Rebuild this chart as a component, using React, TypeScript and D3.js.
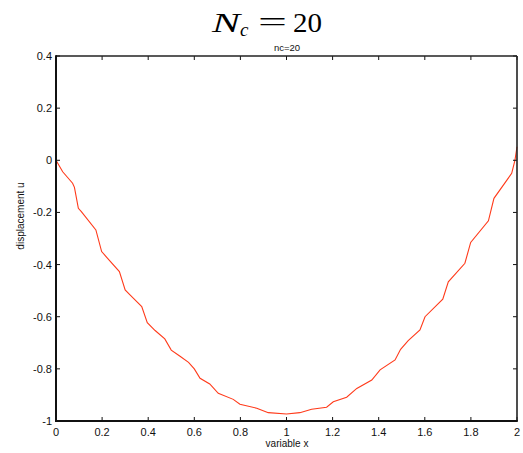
import React from "react";
import * as d3 from "d3";

const xValues = [0, 0.029, 0.072, 0.08, 0.097, 0.11, 0.173, 0.198, 0.22, 0.275, 0.3, 0.321, 0.372, 0.396, 0.43, 0.472, 0.5, 0.535, 0.575, 0.6, 0.625, 0.667, 0.704, 0.769, 0.798, 0.871, 0.921, 1.0, 1.058, 1.109, 1.174, 1.203, 1.261, 1.305, 1.37, 1.406, 1.471, 1.495, 1.528, 1.579, 1.601, 1.678, 1.702, 1.774, 1.799, 1.876, 1.9, 1.977, 1.991, 2.0];
const uValues = [0, -0.044, -0.088, -0.104, -0.184, -0.197, -0.267, -0.35, -0.372, -0.427, -0.497, -0.516, -0.561, -0.623, -0.653, -0.685, -0.728, -0.75, -0.775, -0.8, -0.836, -0.858, -0.894, -0.917, -0.936, -0.951, -0.968, -0.973, -0.968, -0.955, -0.947, -0.926, -0.909, -0.875, -0.843, -0.804, -0.766, -0.725, -0.692, -0.651, -0.6, -0.533, -0.466, -0.395, -0.315, -0.232, -0.146, -0.05, 0, 0.052];
const xTicks = [0, 0.2, 0.4, 0.6, 0.8, 1, 1.2, 1.4, 1.6, 1.8, 2];
const yTicks = [0.4, 0.2, 0, -0.2, -0.4, -0.6, -0.8, -1];

const W = 523, H = 453;
const L = 56, R = 517, T = 56, B = 421;

export default function App() {
  const x = d3.scaleLinear().domain([0, 2]).range([L, R]);
  const y = d3.scaleLinear().domain([-1, 0.4]).range([B, T]);
  const pts = xValues.map((v, i) => [v, uValues[i]] as [number, number]);
  const line = d3.line<[number, number]>().x(d => x(d[0])).y(d => y(d[1]));
  const fmt = (v: number) => (Math.abs(v) < 1e-9 ? "0" : String(+v.toFixed(1)));
  const sans = "Liberation Sans, Arial, sans-serif";
  const serif = "Liberation Serif, Times New Roman, serif";
  return (
    <svg width={W} height={H} style={{ position: "absolute", left: 0, top: 0, background: "#fff" }}>
      <rect x={0} y={0} width={W} height={H} fill="#fff" />
      <g fontFamily={serif} fill="#000">
        <text x={212} y={32} fontSize={27} fontStyle="italic" textLength={28} lengthAdjust="spacingAndGlyphs">N</text>
        <text x={240} y={36} fontSize={19} fontStyle="italic">c</text>
        <text x={258} y={31} fontSize={27} textLength={29} lengthAdjust="spacingAndGlyphs">=</text>
        <text x={293} y={32} fontSize={28} textLength={29} lengthAdjust="spacingAndGlyphs">20</text>
      </g>
      <text x={287} y={51} textAnchor="middle" fontFamily={sans} fontSize={9.5} fill="#111">nc=20</text>
      <path d={line(pts) || ""} fill="none" stroke="#ff3a1a" strokeWidth={1.1} />
      {xTicks.map(t => (
        <g key={"x" + t}>
          <line x1={x(t)} x2={x(t)} y1={B} y2={B - 4} stroke="#111" strokeWidth={1} />
          <line x1={x(t)} x2={x(t)} y1={T} y2={T + 4} stroke="#111" strokeWidth={1} />
          <text x={x(t)} y={436} textAnchor="middle" fontFamily={sans} fontSize={11} fill="#111">{fmt(t)}</text>
        </g>
      ))}
      {yTicks.map(t => (
        <g key={"y" + t}>
          <line x1={L} x2={L + 4} y1={y(t)} y2={y(t)} stroke="#111" strokeWidth={1} />
          <line x1={R} x2={R - 4} y1={y(t)} y2={y(t)} stroke="#111" strokeWidth={1} />
          <text x={L - 4} y={y(t) + 4} textAnchor="end" fontFamily={sans} fontSize={11} fill="#111">{fmt(t)}</text>
        </g>
      ))}
      <line x1={L} x2={R} y1={T} y2={T} stroke="#222" strokeWidth={1.6} />
      <line x1={R} x2={R} y1={T} y2={B} stroke="#222" strokeWidth={1.6} />
      <line x1={L} x2={L} y1={T - 0.8} y2={B + 1} stroke="#111" strokeWidth={2} />
      <line x1={L - 1} x2={R + 0.8} y1={B} y2={B} stroke="#111" strokeWidth={2} />
      <text x={287} y={447} textAnchor="middle" fontFamily={sans} fontSize={10} fill="#111">variable x</text>
      <text transform={`translate(24,216) rotate(-90)`} textAnchor="middle" fontFamily={sans} fontSize={10} fill="#111">displacement u</text>
    </svg>
  );
}
